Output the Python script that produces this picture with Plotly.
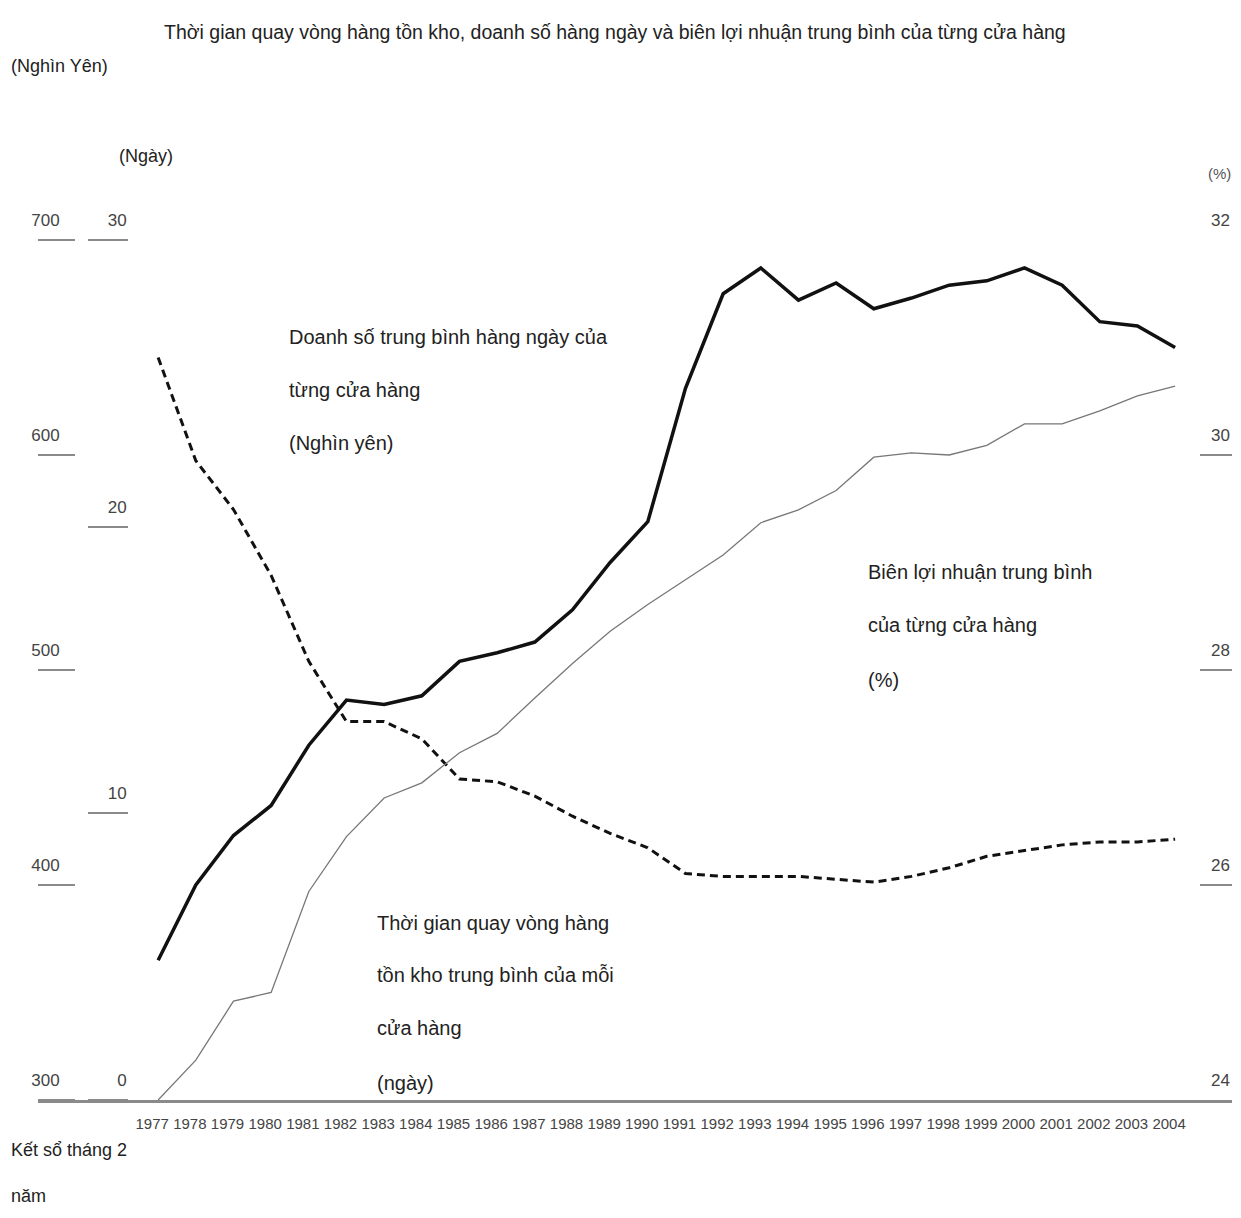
import plotly.graph_objects as go

years = list(range(1977, 2005))

doanh_so = [365, 400, 423, 437, 465, 486, 484, 488, 504, 508, 513, 528, 550, 569,
            631, 675, 687, 672, 680, 668, 673, 679, 681, 687, 679, 662, 660, 650]

so_ngay = [25.9, 22.3, 20.6, 18.3, 15.3, 13.2, 13.2, 12.6, 11.2, 11.1, 10.6, 9.9, 9.3, 8.8,
           7.9, 7.8, 7.8, 7.8, 7.7, 7.6, 7.8, 8.1, 8.5, 8.7, 8.9, 9.0, 9.0, 9.1]

bien_ln = [24.0, 24.37, 24.92, 25.0, 25.94, 26.45, 26.81, 26.95, 27.23, 27.41, 27.74, 28.06,
           28.36, 28.61, 28.84, 29.07, 29.37, 29.49, 29.67, 29.98, 30.02, 30.0, 30.09, 30.29,
           30.29, 30.41, 30.55, 30.64]

yen_ticks = [300, 400, 500, 600, 700]
ngay_ticks = [0, 10, 20, 30]
pct_ticks = [24, 26, 28, 30, 32]

OFF = 8  # page body margin
W, H = 1241 - OFF, 1218 - OFF
L, R, T, B = 38 - OFF, 9, 240 - OFF, 118
FONT = "Liberation Sans, Arial, sans-serif"


# screen pixel -> paper coords
def px(x):
    return (x - OFF - L) / (W - L - R)


def py(y):
    return (H - B - (y - OFF)) / (H - T - B)


fig = go.Figure()
fig.add_trace(go.Scatter(x=years, y=doanh_so, mode="lines", yaxis="y",
                         line=dict(color="#111111", width=3.5)))
fig.add_trace(go.Scatter(x=years, y=so_ngay, mode="lines", yaxis="y2",
                         line=dict(color="#111111", width=3, dash="8px,5px")))
fig.add_trace(go.Scatter(x=years, y=bien_ln, mode="lines", yaxis="y3",
                         line=dict(color="#777777", width=1.3)))

tickfont = dict(family=FONT, size=17, color="#444444")

fig.update_layout(
    width=W, height=H,
    margin=dict(l=L, r=R, t=T, b=B),
    paper_bgcolor="white", plot_bgcolor="white",
    showlegend=False,
    font=dict(family=FONT, color="#222222"),
    xaxis=dict(range=[1973.81, 2005.51], tickvals=years, ticks="", showgrid=False,
               zeroline=False, showline=True, linecolor="#8a8a8a", linewidth=3,
               tickangle=0, tickfont=dict(family=FONT, size=15, color="#444444"),
               ticklabelshift=-6, ticklabelstandoff=8),
    yaxis=dict(range=[300, 700], tickvals=yen_ticks, anchor="free", position=px(75),
               side="left", ticks="outside", ticklen=37, tickwidth=2, tickcolor="#8a8a8a",
               showgrid=False, zeroline=False, showline=False, tickfont=tickfont,
               ticklabelstandoff=-25, ticklabelshift=-20, automargin=False),
    yaxis2=dict(range=[0, 30], tickvals=ngay_ticks, overlaying="y", anchor="free",
                position=px(128), side="left", ticks="outside", ticklen=40, tickwidth=2,
                tickcolor="#8a8a8a", showgrid=False, zeroline=False, showline=False,
                tickfont=tickfont, ticklabelstandoff=-42, ticklabelshift=-20, automargin=False),
    yaxis3=dict(range=[24, 32], tickvals=pct_ticks, overlaying="y", anchor="free",
                position=1, side="right", ticks="inside", ticklen=32, tickwidth=2,
                tickcolor="#8a8a8a", showgrid=False, zeroline=False, showline=False,
                tickfont=tickfont, ticklabelstandoff=-22, ticklabelshift=-20, automargin=False),
)

# texts: (text, left x, centre y, size) in screen pixels
texts = [
    ("Thời gian quay vòng hàng tồn kho, doanh số hàng ngày và biên lợi nhuận trung bình của từng cửa hàng",
     162, 32, 19.5),
    ("(Nghìn Yên)", 9, 66, 18),
    ("(Ngày)", 117, 156, 18),
    ("Doanh số trung bình hàng ngày của", 287, 337, 20),
    ("từng cửa hàng", 287, 390, 20),
    ("(Nghìn yên)", 287, 443, 20),
    ("Biên lợi nhuận trung bình", 866, 572, 20),
    ("của từng cửa hàng", 866, 625, 20),
    ("(%)", 866, 680, 20),
    ("Thời gian quay vòng hàng", 375, 923, 20),
    ("tồn kho trung bình của mỗi", 375, 975, 20),
    ("cửa hàng", 375, 1028, 20),
    ("(ngày)", 375, 1083, 20),
    ("Kết sổ tháng 2", 9, 1150, 18),
    ("năm", 9, 1196, 18),
]
for txt, x, y, s in texts:
    fig.add_annotation(text=txt, x=px(x), y=py(y), xref="paper", yref="paper",
                       xanchor="left", yanchor="middle", showarrow=False,
                       font=dict(family=FONT, size=s, color="#222222"))
fig.add_annotation(text="(%)", x=px(1233), y=py(173), xref="paper", yref="paper",
                   xanchor="right", yanchor="middle", showarrow=False,
                   font=dict(family=FONT, size=15, color="#555555"))

fig.write_html("out.html")
